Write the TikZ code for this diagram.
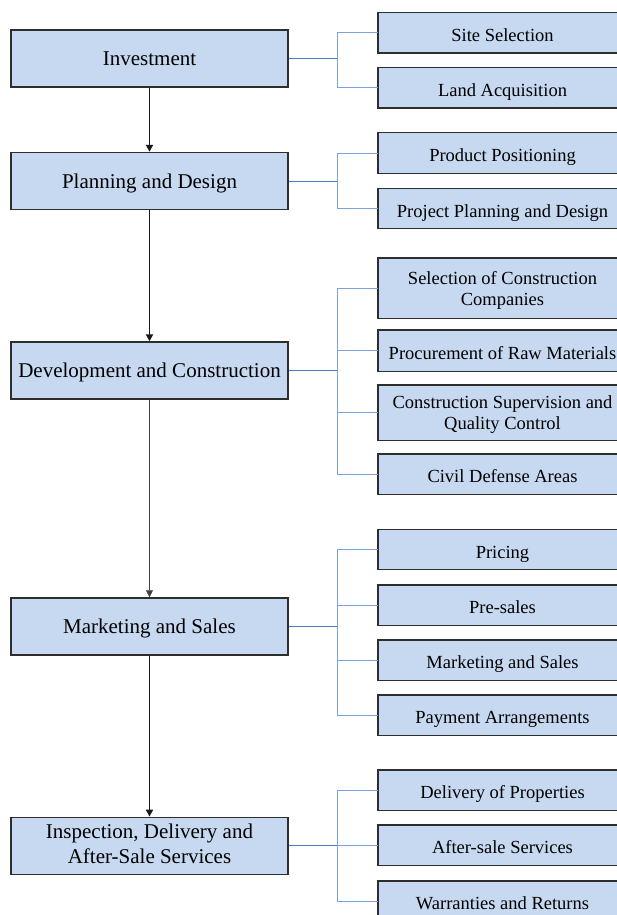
\documentclass[tikz,border=0pt]{standalone}
\usepackage{fontspec}
\setmainfont{Liberation Serif}
\usetikzlibrary{arrows.meta,backgrounds}
\definecolor{boxfill}{HTML}{C6D9F0}
\definecolor{stemblue}{HTML}{4A7BC0}
\definecolor{branchblue}{HTML}{7BA3D8}
\definecolor{boxline}{HTML}{2E2E2E}
\begin{document}
\begin{tikzpicture}[x=1pt,y=-1pt,
 mainbox/.style={draw=boxline, line width=1.4pt, fill=boxfill, minimum width=277pt, minimum height=57pt, inner sep=0pt, font=\fontsize{21}{25.3}\selectfont, align=center, text height=16pt, text depth=2pt},
 maintwo/.style={text height=35pt, text depth=0pt},
 subbox/.style={minimum width=249pt, minimum height=40pt, inner sep=0pt, font=\fontsize{18.5}{20.7}\selectfont, align=center, text height=19pt, text depth=2pt},
 subtwo/.style={text height=34pt, text depth=0pt},
 subshape/.style={draw=boxline, line width=1.4pt, fill=boxfill},
 stem/.style={draw=stemblue, line width=1pt},
 branch/.style={draw=branchblue, line width=1pt},
 flow/.style={draw=black!90, line width=1.8pt, -{Triangle[width=7pt,length=7pt]}},
 thinflow/.style={draw=black!75, line width=0.7pt, -{Triangle[width=7pt,length=7pt]}},
]
\useasboundingbox (0,0) rectangle (616,915);
\coordinate (tr) at (337,0);

% main column
\node[mainbox] (inv) at (149.5,58.5) {Investment};
\node[mainbox] (pla) at (149.5,181) {Planning and Design};
\node[mainbox] (dev) at (149.5,370.5) {Development and Construction};
\node[mainbox] (mar) at (149.5,626.5) {Marketing and Sales};
\node[mainbox, maintwo] (ins) at (149.5,845.8) {Inspection, Delivery and\\After-Sale Services};

% sub boxes (text nodes; their frames run past the right edge of the picture)
\node[subbox] (s1) at (502.5,33) {Site Selection};
\node[subbox] (s2) at (502.5,88) {Land Acquisition};
\node[subbox] (p1) at (502.5,153) {Product Positioning};
\node[subbox] (p2) at (502.5,208.5) {Project Planning and Design};
\node[subbox, subtwo, minimum height=60pt] (d1) at (502.5,288) {Selection of Construction\\Companies};
\node[subbox, minimum height=41pt] (d2) at (502.5,350.5) {Procurement of Raw Materials};
\node[subbox, subtwo, minimum height=55pt] (d3) at (502.5,412.5) {Construction Supervision and\\Quality Control};
\node[subbox] (d4) at (502.5,474) {Civil Defense Areas};
\node[subbox] (m1) at (502.5,549.5) {Pricing};
\node[subbox] (m2) at (502.5,605) {Pre-sales};
\node[subbox] (m3) at (502.5,660) {Marketing and Sales};
\node[subbox] (m4) at (502.5,715) {Payment Arrangements};
\node[subbox] (i1) at (502.5,790) {Delivery of Properties};
\node[subbox] (i2) at (502.5,845) {After-sale Services};
\node[subbox] (i3) at (502.5,901) {Warranties and Returns};

\begin{scope}[on background layer]
\foreach \n in {s1,s2,p1,p2,d1,d2,d3,d4,m1,m2,m3,m4,i1,i2,i3}
  \draw[subshape] (\n.north west) rectangle ([xshift=60pt]\n.south east);
\end{scope}

% flow arrows
\draw[flow] (inv.south) -- (pla.north);
\draw[flow] (pla.south) -- (dev.north);
\draw[thinflow] (dev.south) -- (mar.north);
\draw[flow] (mar.south) -- (ins.north);

% blue links
\foreach \p/\c in {inv/s1,inv/s2,pla/p1,pla/p2,dev/d1,dev/d2,dev/d3,dev/d4,mar/m1,mar/m2,mar/m3,mar/m4,ins/i1,ins/i2,ins/i3}
  \draw[branch] (\p.east -| tr) |- (\c.west);
\foreach \p in {inv,pla,dev,mar,ins}
  \draw[stem] (\p.east) -- (\p.east -| tr);
\end{tikzpicture}
\end{document}
